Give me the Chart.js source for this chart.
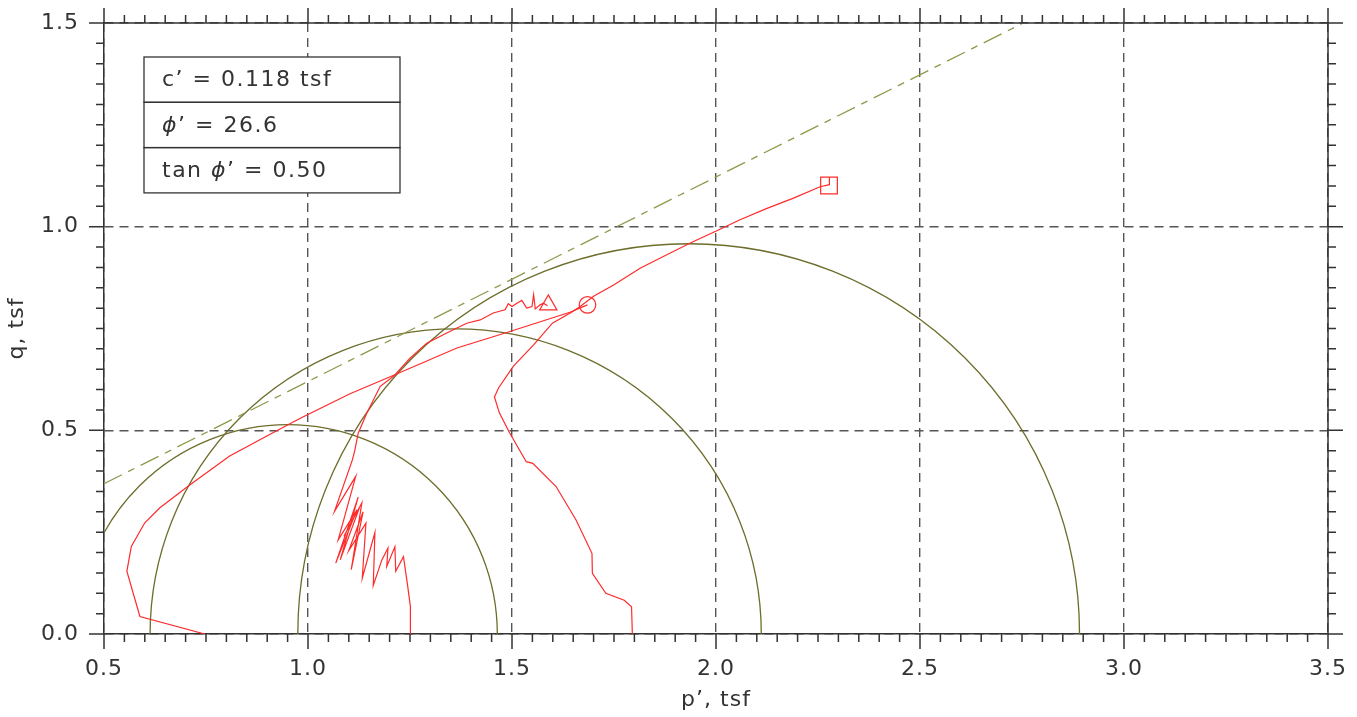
<!DOCTYPE html>
<html>
<head>
<meta charset="utf-8">
<title>p'-q stress paths</title>
<script src="https://cdn.jsdelivr.net/npm/chart.js@4.4.1/dist/chart.umd.min.js"></script>
<style>
  html, body { margin: 0; padding: 0; background: #fff; }
  #wrap { width: 1357px; height: 717px; }
</style>
</head>
<body>
<div id="wrap"><canvas id="pq" width="1357" height="717"></canvas></div>
<script>
// axis ticks
const xTicks = [0.5, 1.0, 1.5, 2.0, 2.5, 3.0, 3.5];
const yTicks = [0.0, 0.5, 1.0, 1.5];
const minorStep = 0.05;

// Mohr circles: centre p' and radius (tsf)
const circleCentres = [0.950, 1.362, 1.933];
const circleRadii = [0.514, 0.749, 0.958];

// failure envelope end points
const envP = [0.5, 2.753];
const envQ = [0.369, 1.5];

// stress path 1 (starts at p' = 0.75)
const path1P = [0.747, 0.588, 0.556, 0.567, 0.600, 0.637, 0.710, 0.808, 0.906, 0.980, 1.103, 1.200, 1.365, 1.493, 1.642, 1.685];
const path1Q = [0.000, 0.043, 0.154, 0.215, 0.273, 0.310, 0.366, 0.437, 0.490, 0.529, 0.590, 0.631, 0.702, 0.742, 0.790, 0.808];

// stress path 2 (starts at p' = 1.25)
const path2P = [1.251, 1.251, 1.244, 1.234, 1.215, 1.213, 1.193, 1.196, 1.181, 1.160, 1.164, 1.133, 1.142, 1.100,
                1.135, 1.106, 1.132, 1.088, 1.126, 1.079, 1.123, 1.068, 1.120, 1.074, 1.117, 1.065, 1.109, 1.115,
                1.123, 1.144, 1.177, 1.209, 1.250, 1.291, 1.340, 1.389, 1.422, 1.454, 1.483, 1.491, 1.500, 1.512,
                1.524, 1.536, 1.549, 1.553, 1.557, 1.569, 1.577, 1.587];
const path2Q = [0.000, 0.067, 0.120, 0.190, 0.154, 0.214, 0.166, 0.211, 0.182, 0.119, 0.249, 0.137, 0.272, 0.205,
                0.300, 0.158, 0.322, 0.240, 0.310, 0.182, 0.336, 0.174, 0.305, 0.231, 0.387, 0.301, 0.428, 0.452,
                0.493, 0.542, 0.608, 0.632, 0.677, 0.714, 0.739, 0.763, 0.771, 0.788, 0.796, 0.811, 0.804, 0.812,
                0.819, 0.800, 0.804, 0.833, 0.798, 0.808, 0.812, 0.806];

// stress path 3 (starts at p' = 1.80)
const path3P = [1.795, 1.793, 1.775, 1.730, 1.697, 1.696, 1.657, 1.608, 1.551, 1.535, 1.494, 1.469, 1.457, 1.467, 1.503, 1.553,
                1.599, 1.648, 1.667, 1.700, 1.749, 1.814, 1.855, 1.937, 2.002, 2.059, 2.125, 2.190, 2.255, 2.278, 2.278];
const path3Q = [0.000, 0.067, 0.083, 0.100, 0.149, 0.198, 0.280, 0.362, 0.419, 0.423, 0.494, 0.543, 0.582, 0.604, 0.657, 0.710,
                0.763, 0.791, 0.804, 0.829, 0.857, 0.898, 0.919, 0.960, 0.990, 1.017, 1.045, 1.070, 1.098, 1.103, 1.121];

// end-of-test markers
const markerP = [1.589, 1.685, 2.277];
const markerQ = [0.808, 0.808, 1.101];
const markerStyles = ["triangle", "circle", "rect"];
const markerSizes = [10, 8.3, 11.8];

// strength parameters box
const strengthLines = ["c’ = 0.118 tsf", "ϕ’ = 26.6", "tan ϕ’ = 0.50"];

const FONT = '"DejaVu Sans ExtraLight", "DejaVu Sans", sans-serif';
const TEXT = "#333";
const RED = "#ff2a2a";
const OLIVE = "#6d6d2c";

const toXY = (ps, qs) => ps.map((p, i) => ({ x: p, y: qs[i] }));

// keep the plot area exactly where the axes are sized, no label overflow padding
const noOverflow = s => {
  s.paddingTop = 0; s.paddingBottom = 0; s.paddingLeft = 0; s.paddingRight = 0;
};

// wider letter spacing, like the stroke font of the original plot
const spacing = {
  id: "spacing",
  beforeDraw(chart) { chart.ctx.letterSpacing = "1px"; }
};

// Mohr circles drawn as half ellipses through the scales
const mohrCircles = {
  id: "mohrCircles",
  beforeDatasetsDraw(chart) {
    const { ctx, chartArea: a, scales: { x, y } } = chart;
    ctx.save();
    ctx.beginPath();
    ctx.rect(a.left, a.top, a.width, a.height);
    ctx.clip();
    ctx.strokeStyle = OLIVE;
    ctx.lineWidth = 1.3;
    circleCentres.forEach((c, i) => {
      const r = circleRadii[i];
      const cx = x.getPixelForValue(c);
      const cy = y.getPixelForValue(0);
      const rx = x.getPixelForValue(c + r) - cx;
      const ry = cy - y.getPixelForValue(r);
      ctx.beginPath();
      ctx.ellipse(cx, cy, rx, ry, 0, Math.PI, 2 * Math.PI);
      ctx.stroke();
    });
    ctx.restore();
  }
};

// frame on top/right plus outward minor and major ticks on all sides
const frameTicks = {
  id: "frameTicks",
  afterDraw(chart) {
    const { ctx, chartArea: a, scales: { x, y } } = chart;
    ctx.save();
    ctx.strokeStyle = TEXT;
    ctx.lineWidth = 1.5;
    ctx.beginPath();
    ctx.moveTo(a.left, a.top);
    ctx.lineTo(a.right, a.top);
    ctx.lineTo(a.right, a.bottom);
    const nx = Math.round((x.max - x.min) / minorStep);
    for (let i = 0; i <= nx; i++) {
      const px = x.getPixelForValue(x.min + i * minorStep);
      const len = i % 10 === 0 ? 15 : 8;
      ctx.moveTo(px, a.bottom); ctx.lineTo(px, a.bottom + len);
      ctx.moveTo(px, a.top); ctx.lineTo(px, a.top - len);
    }
    const ny = Math.round((y.max - y.min) / minorStep);
    for (let i = 0; i <= ny; i++) {
      const py = y.getPixelForValue(y.min + i * minorStep);
      const len = i % 10 === 0 ? 15 : 8;
      ctx.moveTo(a.left, py); ctx.lineTo(a.left - len, py);
      ctx.moveTo(a.right, py); ctx.lineTo(a.right + len, py);
    }
    ctx.stroke();
    ctx.restore();
  }
};

// boxed c', phi' table
const strengthBox = {
  id: "strengthBox",
  afterDraw(chart) {
    const { ctx } = chart;
    const left = 144, top = 57, w = 256, rowH = 45.3;
    ctx.save();
    ctx.letterSpacing = "1.5px";
    ctx.fillStyle = "#fff";
    ctx.fillRect(left, top, w, rowH * strengthLines.length);
    ctx.strokeStyle = TEXT;
    ctx.lineWidth = 1.3;
    strengthLines.forEach((line, i) => {
      const ty = top + i * rowH;
      ctx.strokeRect(left, ty, w, rowH);
      let tx = left + 18;
      ctx.fillStyle = TEXT;
      ctx.textBaseline = "middle";
      // phi drawn in italic
      line.split(/(ϕ)/).forEach(part => {
        if (!part) return;
        ctx.font = (part === "ϕ" ? "italic " : "") + "22px " + FONT;
        ctx.fillText(part, tx, ty + rowH / 2 + 1);
        tx += ctx.measureText(part).width;
      });
    });
    ctx.restore();
  }
};

const ctx = document.getElementById("pq").getContext("2d");

new Chart(ctx, {
  type: "scatter",
  data: {
    datasets: [
      {
        label: "Failure envelope",
        data: toXY(envP, envQ),
        showLine: true,
        borderColor: "#8c9a4c",
        borderWidth: 1.3,
        borderDash: [20, 7, 7, 7],
        pointRadius: 0
      },
      { label: "Path 1", data: toXY(path1P, path1Q), showLine: true, borderColor: RED, borderWidth: 1.2, pointRadius: 0 },
      { label: "Path 2", data: toXY(path2P, path2Q), showLine: true, borderColor: RED, borderWidth: 1.2, pointRadius: 0 },
      { label: "Path 3", data: toXY(path3P, path3Q), showLine: true, borderColor: RED, borderWidth: 1.2, pointRadius: 0 },
      {
        label: "End points",
        data: toXY(markerP, markerQ),
        showLine: false,
        pointStyle: markerStyles,
        pointRadius: markerSizes,
        borderColor: RED,
        backgroundColor: "rgba(0,0,0,0)",
        pointBorderWidth: 1.2
      }
    ]
  },
  options: {
    responsive: false,
    animation: false,
    devicePixelRatio: 1,
    layout: { padding: { left: 0, right: 29, top: 23, bottom: 0 } },
    plugins: { legend: { display: false }, tooltip: { enabled: false } },
    scales: {
      x: {
        type: "linear",
        position: "bottom",
        min: 0.5,
        max: 3.5,
        afterBuildTicks: s => { s.ticks = xTicks.map(v => ({ value: v })); },
        afterFit: s => { s.height = 83; noOverflow(s); },
        ticks: {
          padding: 22,
          color: TEXT,
          font: { family: FONT, size: 22 },
          callback: v => Number(v).toFixed(1)
        },
        grid: { color: "#555", lineWidth: 1.4, drawTicks: false },
        border: { display: true, color: TEXT, width: 1.5, dash: [9, 6] },
        title: {
          display: true,
          text: "p’, tsf",
          color: TEXT,
          font: { family: FONT, size: 22 },
          padding: { top: 0, bottom: 4 }
        }
      },
      y: {
        type: "linear",
        position: "left",
        min: 0,
        max: 1.5,
        afterBuildTicks: s => { s.ticks = yTicks.map(v => ({ value: v })); },
        afterFit: s => { s.width = 104; noOverflow(s); },
        ticks: {
          padding: 25,
          color: TEXT,
          font: { family: FONT, size: 22 },
          callback: v => Number(v).toFixed(1)
        },
        grid: { color: "#555", lineWidth: 1.4, drawTicks: false },
        border: { display: true, color: TEXT, width: 1.5, dash: [9, 6] },
        title: {
          display: true,
          text: "q, tsf",
          color: TEXT,
          font: { family: FONT, size: 22 },
          padding: { top: 4, bottom: 0 }
        }
      }
    }
  },
  plugins: [spacing, mohrCircles, frameTicks, strengthBox]
});
</script>
</body>
</html>
